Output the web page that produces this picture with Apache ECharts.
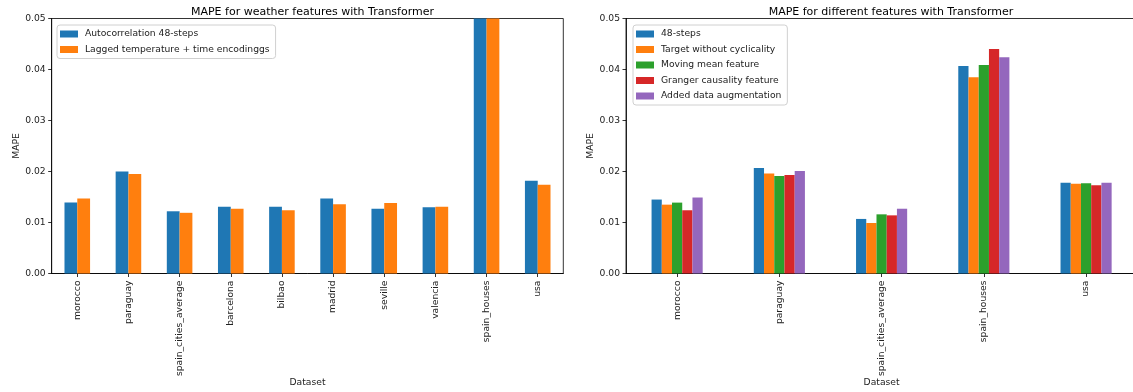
<!DOCTYPE html>
<html>
<head>
<meta charset="utf-8">
<script src="https://cdn.jsdelivr.net/npm/echarts@6/dist/echarts.min.js"></script>
<style>
  html, body { margin: 0; padding: 0; background: #fff; }
  #chart { width: 1133px; height: 392px; }
</style>
</head>
<body>
<div id="chart"></div>
<script>
// Left panel: weather features
const weatherCategories = ['morocco', 'paraguay', 'spain_cities_average', 'barcelona', 'bilbao',
  'madrid', 'seville', 'valencia', 'spain_houses', 'usa'];
const autocorrelation48 = [0.0139, 0.0200, 0.0122, 0.0131, 0.0131, 0.0147, 0.0127, 0.0130, 0.0535, 0.0182];
const laggedTempTime    = [0.0147, 0.0195, 0.0119, 0.0127, 0.0124, 0.0136, 0.0138, 0.0131, 0.0528, 0.0174];

// Right panel: feature variants
const featureCategories = ['morocco', 'paraguay', 'spain_cities_average', 'spain_houses', 'usa'];
const steps48           = [0.0145, 0.0207, 0.0107, 0.0407, 0.0178];
const targetNoCyclic    = [0.0135, 0.0196, 0.0099, 0.0385, 0.0176];
const movingMean        = [0.0139, 0.0191, 0.0116, 0.0409, 0.0177];
const grangerCausality  = [0.0124, 0.0193, 0.0114, 0.0440, 0.0173];
const dataAugmentation  = [0.0149, 0.0201, 0.0127, 0.0424, 0.0178];

const palette = ['#1f77b4', '#ff7f0e', '#2ca02c', '#d62728', '#9467bd'];
const FONT = 'DejaVu Sans';
const TXT = '#222';

function yAxisCfg(gridIndex) {
  return {
    type: 'value', gridIndex: gridIndex, min: 0, max: 0.05, interval: 0.01,
    name: 'MAPE', nameLocation: 'middle', nameGap: 31, nameMoveOverlap: false,
    nameTextStyle: { fontFamily: FONT, fontSize: 9.2, color: TXT },
    axisLine: { show: true, lineStyle: { color: '#000', width: 0.8 } },
    axisTick: { show: true, length: 3.5, lineStyle: { color: '#000', width: 0.8 } },
    axisLabel: { fontFamily: FONT, fontSize: 9.2, color: TXT, margin: 6,
      formatter: v => v.toFixed(2) },
    splitLine: { show: false }
  };
}
function xAxisCfg(gridIndex, cats) {
  return {
    type: 'category', gridIndex: gridIndex, data: cats,
    name: 'Dataset', nameLocation: 'middle', nameGap: 105, nameMoveOverlap: false,
    nameTextStyle: { fontFamily: FONT, fontSize: 9.2, color: TXT, verticalAlign: 'top' },
    axisLine: { show: true, lineStyle: { color: '#000', width: 0.8 } },
    axisTick: { show: true, alignWithLabel: true, length: 3.5, lineStyle: { color: '#000', width: 0.8 } },
    axisLabel: { rotate: 90, interval: 0, fontFamily: FONT, fontSize: 9.2, color: TXT, margin: 7 }
  };
}
function legendCfg(left, names) {
  return {
    orient: 'vertical', left: left, top: 25, data: names,
    icon: 'rect', itemWidth: 18, itemHeight: 7, itemGap: 3.5,
    padding: [3, 6, 3, 3],
    backgroundColor: 'rgba(255,255,255,0.8)', borderColor: '#d0d0d0', borderWidth: 1, borderRadius: 3,
    textStyle: { fontFamily: FONT, fontSize: 9.2, color: TXT, lineHeight: 12, padding: [0, 0, 0, 2] }
  };
}
function barSeries(name, data, idx, axisIdx, width) {
  return {
    type: 'bar', name: name, data: data, xAxisIndex: axisIdx, yAxisIndex: axisIdx,
    barWidth: width, barGap: '0%', clip: true,
    itemStyle: { color: palette[idx] }
  };
}

const leftNames = ['Autocorrelation 48-steps', 'Lagged temperature + time encodinggs'];
const rightNames = ['48-steps', 'Target without cyclicality', 'Moving mean feature',
  'Granger causality feature', 'Added data augmentation'];

const chart = echarts.init(document.getElementById('chart'), null, { renderer: 'canvas' });
chart.setOption({
  animation: false,
  backgroundColor: '#fff',
  title: [
    { text: 'MAPE for weather features with Transformer', left: 307.5, top: 2, textAlign: 'center',
      textStyle: { fontFamily: FONT, fontSize: 11, fontWeight: 'normal', color: '#000' } },
    { text: 'MAPE for different features with Transformer', left: 886, top: 2, textAlign: 'center',
      textStyle: { fontFamily: FONT, fontSize: 11, fontWeight: 'normal', color: '#000' } }
  ],
  legend: [legendCfg(57, leftNames), legendCfg(633, rightNames)],
  grid: [
    { left: 51.7, top: 18.5, width: 511.6, height: 255, show: true, borderColor: '#000', borderWidth: 0.8,
      backgroundColor: 'transparent', containLabel: false, outerBoundsMode: 'none' },
    { left: 626, top: 18.5, width: 511.2, height: 255, show: true, borderColor: '#000', borderWidth: 0.8,
      backgroundColor: 'transparent', containLabel: false, outerBoundsMode: 'none' }
  ],
  xAxis: [xAxisCfg(0, weatherCategories), xAxisCfg(1, featureCategories)],
  yAxis: [yAxisCfg(0), yAxisCfg(1)],
  series: [
    barSeries(leftNames[0], autocorrelation48, 0, 0, '25%'),
    barSeries(leftNames[1], laggedTempTime, 1, 0, '25%'),
    barSeries(rightNames[0], steps48, 0, 1, '10%'),
    barSeries(rightNames[1], targetNoCyclic, 1, 1, '10%'),
    barSeries(rightNames[2], movingMean, 2, 1, '10%'),
    barSeries(rightNames[3], grangerCausality, 3, 1, '10%'),
    barSeries(rightNames[4], dataAugmentation, 4, 1, '10%')
  ]
});
</script>
</body>
</html>
